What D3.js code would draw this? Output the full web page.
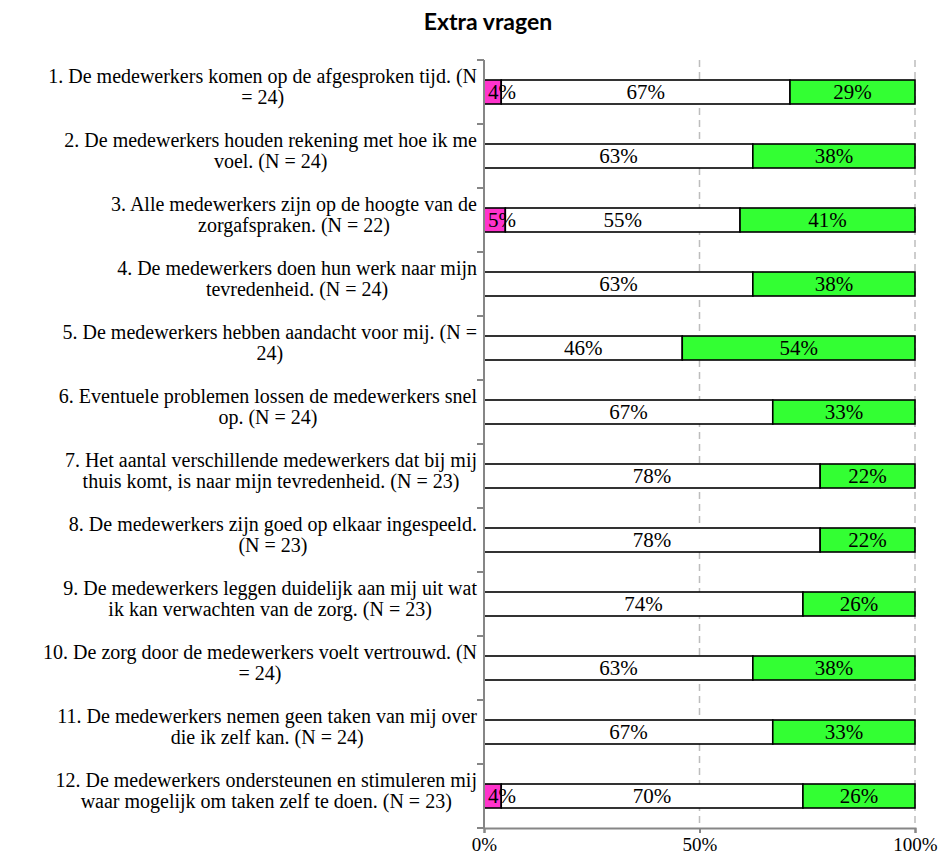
<!DOCTYPE html>
<html>
<head>
<meta charset="utf-8">
<script src="https://cdn.jsdelivr.net/npm/d3@7"></script>
<style>
  html, body { margin: 0; padding: 0; background: #fff; }
  svg { display: block; }
</style>
</head>
<body>
<svg id="chart" width="947" height="859"></svg>
<script>
// Survey statements (each entry is one label, split into its display lines)
const questions = [
  ["1. De medewerkers komen op de afgesproken tijd. (N", "= 24)"],
  ["2. De medewerkers houden rekening met hoe ik me", "voel. (N = 24)"],
  ["3. Alle medewerkers zijn op de hoogte van de", "zorgafspraken. (N = 22)"],
  ["4. De medewerkers doen hun werk naar mijn", "tevredenheid. (N = 24)"],
  ["5. De medewerkers hebben aandacht voor mij. (N =", "24)"],
  ["6. Eventuele problemen lossen de medewerkers snel", "op. (N = 24)"],
  ["7. Het aantal verschillende medewerkers dat bij mij", "thuis komt, is naar mijn tevredenheid. (N = 23)"],
  ["8. De medewerkers zijn goed op elkaar ingespeeld.", "(N = 23)"],
  ["9. De medewerkers leggen duidelijk aan mij uit wat", "ik kan verwachten van de zorg. (N = 23)"],
  ["10. De zorg door de medewerkers voelt vertrouwd. (N", "= 24)"],
  ["11. De medewerkers nemen geen taken van mij over", "die ik zelf kan. (N = 24)"],
  ["12. De medewerkers ondersteunen en stimuleren mij", "waar mogelijk om taken zelf te doen. (N = 23)"]
];

// Answer shares per statement, in percent
const negative = [4, 0, 5, 0, 0, 0, 0, 0, 0, 0, 0, 4];
const neutral  = [67, 63, 55, 63, 46, 67, 78, 78, 74, 63, 67, 70];
const positive = [29, 38, 41, 38, 54, 33, 22, 22, 26, 38, 33, 26];

const seriesKeys = ["negative", "neutral", "positive"];
const seriesColors = ["#ff33cc", "#ffffff", "#33ff33"];
const xTicks = [0, 0.5, 1];
const title = "Extra vragen";

const rows = questions.map((q, i) => ({
  id: i,
  lines: q,
  negative: negative[i],
  neutral: neutral[i],
  positive: positive[i]
}));

const svg = d3.select("#chart");
const margin = { left: 484, right: 32, top: 60, bottom: 31 };
const W = 947, H = 859;
const plotW = W - margin.left - margin.right;
const plotH = H - margin.top - margin.bottom;
const serif = "'Liberation Serif', 'DejaVu Serif', serif";

const x = d3.scaleLinear().domain([0, 1]).range([margin.left, margin.left + plotW]);
const y = d3.scaleBand().domain(rows.map(d => d.id)).range([margin.top, margin.top + plotH]).paddingInner(0.625).paddingOuter(0.3125);

// 100% stacked layout: each row is normalised to its own total
const stacked = d3.stack().keys(seriesKeys).offset(d3.stackOffsetExpand)(rows);

// Title
svg.append("text")
  .attr("x", 488).attr("y", 30)
  .attr("text-anchor", "middle")
  .attr("font-family", "Lato, 'Open Sans', sans-serif")
  .attr("font-weight", "bold")
  .attr("font-size", 23)
  .attr("fill", "#000")
  .text(title);

// Dashed vertical gridlines
svg.append("g")
  .selectAll("line")
  .data(xTicks.filter(t => t > 0))
  .join("line")
  .attr("x1", d => x(d)).attr("x2", d => x(d))
  .attr("y1", margin.top).attr("y2", margin.top + plotH)
  .attr("stroke", "#bdbdbd")
  .attr("stroke-width", 1.5)
  .attr("stroke-dasharray", "7,5");

// Bars
const layer = svg.append("g")
  .selectAll("g")
  .data(stacked)
  .join("g")
  .attr("fill", (d, i) => seriesColors[i]);

layer.selectAll("rect")
  .data(d => d.filter(s => s[1] - s[0] > 0))
  .join("rect")
  .attr("x", d => x(d[0]))
  .attr("width", d => x(d[1]) - x(d[0]))
  .attr("y", d => y(d.data.id))
  .attr("height", y.bandwidth())
  .attr("stroke", "#000")
  .attr("stroke-width", 1.6);

// Value labels, centred in each segment but kept inside the plot area
const valueLabels = svg.append("g")
  .selectAll("g")
  .data(stacked)
  .join("g")
  .selectAll("text")
  .data(d => d.filter(s => s.data[d.key] > 0).map(s => ({ s, v: s.data[d.key] })))
  .join("text")
  .attr("y", d => y(d.s.data.id) + y.bandwidth() / 2 + 7)
  .attr("text-anchor", "middle")
  .attr("font-family", serif)
  .attr("font-size", 21)
  .attr("fill", "#000")
  .text(d => d.v + "%");

valueLabels.each(function (d) {
  const w = this.getComputedTextLength();
  const cx = (x(d.s[0]) + x(d.s[1])) / 2;
  d3.select(this).attr("x", Math.max(cx, x(0) + 4 + w / 2));
});

// Axes
const axisColor = "#868686";
const yAxis = svg.append("g");
yAxis.append("line")
  .attr("x1", margin.left).attr("x2", margin.left)
  .attr("y1", margin.top).attr("y2", margin.top + plotH)
  .attr("stroke", axisColor).attr("stroke-width", 2);
yAxis.selectAll("line.tick")
  .data(d3.range(rows.length + 1))
  .join("line")
  .attr("class", "tick")
  .attr("x1", margin.left - 7).attr("x2", margin.left)
  .attr("y1", i => margin.top + i * y.step())
  .attr("y2", i => margin.top + i * y.step())
  .attr("stroke", axisColor).attr("stroke-width", 2);

const xAxis = svg.append("g")
  .attr("transform", `translate(0,${margin.top + plotH})`)
  .call(d3.axisBottom(x).tickValues(xTicks).tickFormat(d3.format(".0%")).tickSize(5).tickPadding(5));
xAxis.select(".domain").attr("stroke", axisColor).attr("stroke-width", 2);
xAxis.selectAll(".tick line").attr("stroke", axisColor).attr("stroke-width", 2);
xAxis.selectAll(".tick text")
  .attr("font-family", serif)
  .attr("font-size", 19)
  .attr("fill", "#000");

// Category labels: each block right-aligned to the axis, lines centred in the block
const labelRight = 477;
const lineH = 21;
const labels = svg.append("g")
  .attr("font-family", serif)
  .attr("font-size", 20)
  .attr("fill", "#000");

rows.forEach(r => {
  const g = labels.append("g");
  const texts = r.lines.map((line, k) => g.append("text")
    .attr("text-anchor", "middle")
    .attr("y", y(r.id) + y.bandwidth() / 2 - lineH / 2 + k * lineH + 1)
    .text(line));
  const widths = texts.map(t => t.node().getComputedTextLength());
  const blockW = d3.max(widths);
  texts.forEach(t => t.attr("x", labelRight - blockW / 2));
});
</script>
</body>
</html>
